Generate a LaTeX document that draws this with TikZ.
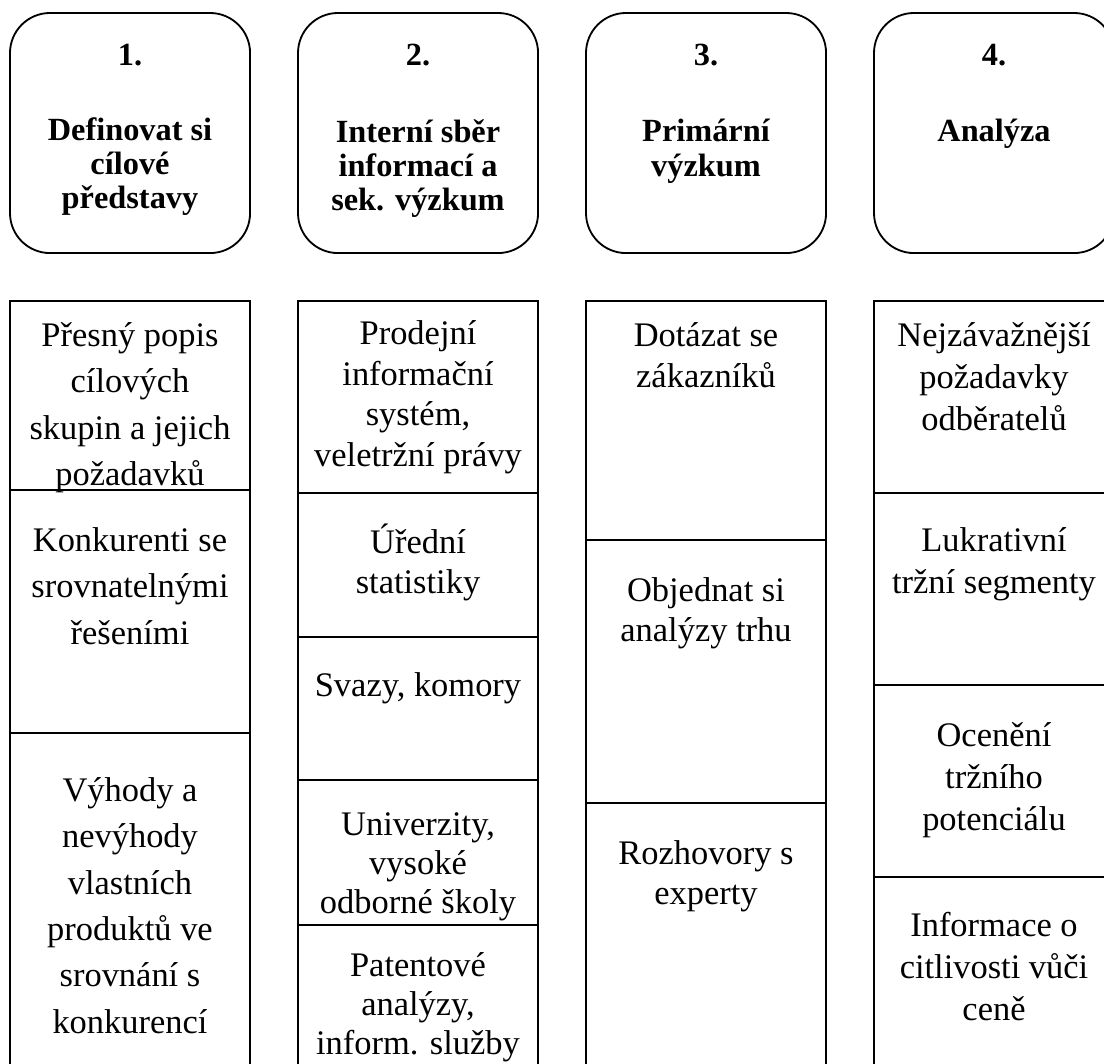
\documentclass[tikz,border=0pt]{standalone}
\usepackage{fontspec}
\setmainfont{Liberation Serif}
\begin{document}
\begin{tikzpicture}[
        x=0.025cm, y=-0.025cm,
        hlava/.style={draw, line width=1.3pt, outer sep=0pt, rounded corners=1cm, minimum width=6cm, minimum height=6cm, anchor=north west},
        bunka/.style={draw, line width=1.3pt, outer sep=0pt, minimum width=6cm, anchor=north west},
        cislo/.style={font=\bfseries\fontsize{23}{24.5}\selectfont, inner sep=0pt},
        nadpis/.style={font=\bfseries\fontsize{23}{24.5}\selectfont, align=center, anchor=north, inner sep=0pt},
        popis/.style={font=\fontsize{24.5}{30}\selectfont, align=center, anchor=north, inner sep=0pt},
        husty/.style={font=\fontsize{24.5}{28}\selectfont}
    ]
        \useasboundingbox (0,0) rectangle (1104,1064);
        \clip (0,0) rectangle (1104,1064);

        % Hlavičky kroků
        \node[hlava] (h1) at (10,13) {};
        \node[hlava] (h2) at (298,13) {};
        \node[hlava] (h3) at (586,13) {};
        \node[hlava] (h4) at (874,13) {};
        \node[cislo] (c1) at (130,55) {1.};
        \node[cislo] (c2) at (418,55) {2.};
        \node[cislo] (c3) at (706,55) {3.};
        \node[cislo] (c4) at (994,55) {4.};
        \node[nadpis] (n1) at (130,117) {Definovat si\\cílové\\představy};
        \node[nadpis] (n2) at (418,119) {Interní sběr\\informací a\\sek. výzkum};
        \node[nadpis] (n3) at (706,119) {Primární\\výzkum};
        \node[nadpis] (n4) at (994,119) {Analýza};

        % 1. sloupec
        \node[bunka, minimum height=189*0.025cm] (b11) at (10,301) {};
        \node[bunka, minimum height=243*0.025cm] (b12) at (10,490) {};
        \node[bunka, minimum height=400*0.025cm] (b13) at (10,733) {};
        \node[popis, font=\fontsize{24.5}{33}\selectfont] (t11) at (130,322) {Přesný popis\\cílových\\skupin a jejich\\požadavků};
        \node[popis, font=\fontsize{24.5}{33}\selectfont] (t12) at (130,527) {Konkurenti se\\srovnatelnými\\řešeními};
        \node[popis, font=\fontsize{24.5}{33}\selectfont] (t13) at (130,777) {Výhody a\\nevýhody\\vlastních\\produktů ve\\srovnání s\\konkurencí};

        % 2. sloupec
        \node[bunka, minimum height=192*0.025cm] (b21) at (298,301) {};
        \node[bunka, minimum height=144*0.025cm] (b22) at (298,493) {};
        \node[bunka, minimum height=143*0.025cm] (b23) at (298,637) {};
        \node[bunka, minimum height=145*0.025cm] (b24) at (298,780) {};
        \node[bunka, minimum height=250*0.025cm] (b25) at (298,925) {};
        \node[popis, font=\fontsize{24.5}{29}\selectfont] (t21) at (418,320) {Prodejní\\informační\\systém,\\veletržní právy};
        \node[popis, husty] (t22) at (418,524) {Úřední\\statistiky};
        \node[popis] (t23) at (418,672) {Svazy, komory};
        \node[popis, husty] (t24) at (418,812) {Univerzity,\\vysoké\\odborné školy};
        \node[popis, husty] (t25) at (418,952) {Patentové\\analýzy,\\inform. služby};

        % 3. sloupec
        \node[bunka, minimum height=239*0.025cm] (b31) at (586,301) {};
        \node[bunka, minimum height=263*0.025cm] (b32) at (586,540) {};
        \node[bunka, minimum height=320*0.025cm] (b33) at (586,803) {};
        \node[popis, font=\fontsize{24.5}{29}\selectfont] (t31) at (706,322) {Dotázat se\\zákazníků};
        \node[popis, font=\fontsize{24.5}{29}\selectfont] (t32) at (706,577) {Objednat si\\analýzy trhu};
        \node[popis, font=\fontsize{24.5}{29}\selectfont] (t33) at (706,840) {Rozhovory s\\experty};

        % 4. sloupec
        \node[bunka, minimum height=192*0.025cm] (b41) at (874,301) {};
        \node[bunka, minimum height=192*0.025cm] (b42) at (874,493) {};
        \node[bunka, minimum height=192*0.025cm] (b43) at (874,685) {};
        \node[bunka, minimum height=280*0.025cm] (b44) at (874,877) {};
        \node[popis] (t41) at (994,322) {Nejzávažnější\\požadavky\\odběratelů};
        \node[popis] (t42) at (994,527) {Lukrativní\\tržní segmenty};
        \node[popis] (t43) at (994,722) {Ocenění\\tržního\\potenciálu};
        \node[popis] (t44) at (994,912) {Informace o\\citlivosti vůči\\ceně};
    \end{tikzpicture}
\end{document}
